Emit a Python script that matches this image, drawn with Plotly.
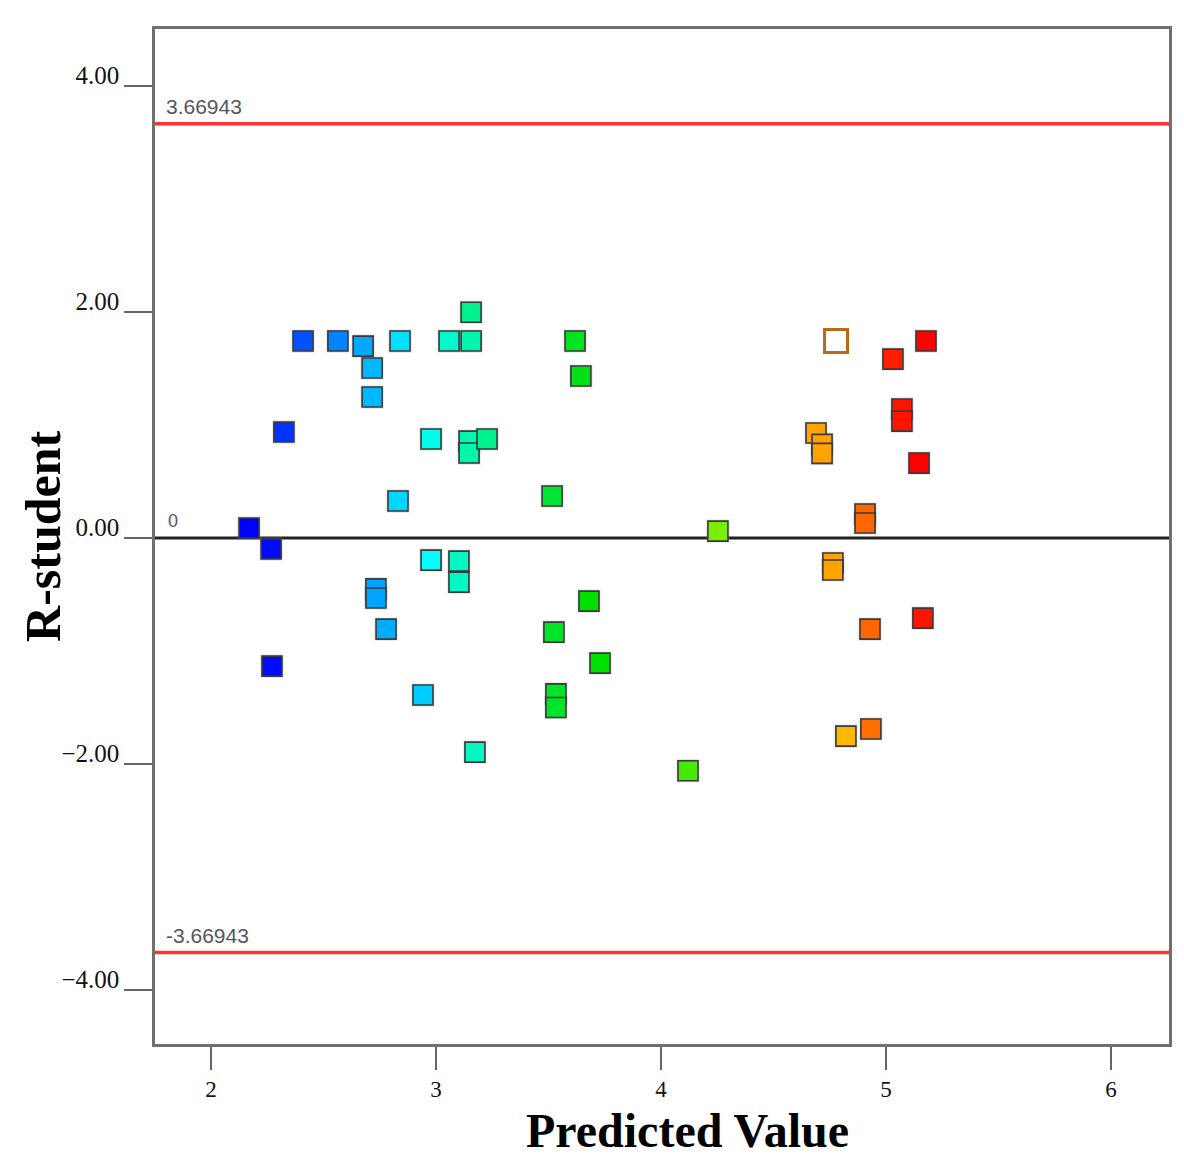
import plotly.graph_objects as go

# Predicted value (x), externally studentized residual (y), colour level (actual response rank 0..1)
predicted = [2.169, 2.267, 2.271, 2.324, 2.409, 2.564, 2.676, 2.716, 2.716, 2.733, 2.733,
             2.778, 2.840, 2.831, 2.942, 2.978, 2.978, 3.058, 3.156, 3.156, 3.147, 3.147,
             3.227, 3.102, 3.102, 3.173, 3.516, 3.618, 3.644, 3.524, 3.680, 3.729, 3.533,
             3.533, 4.120, 4.253, 4.689, 4.716, 4.716, 4.764, 4.764, 4.907, 4.907, 5.031,
             5.178, 5.071, 5.071, 5.147, 5.164, 4.929, 4.933, 4.822]
r_student = [0.089, -0.097, -1.134, 0.939, 1.745, 1.745, 1.700, 1.506, 1.249, -0.450, -0.530,
             -0.806, 1.745, 0.328, -1.390, 0.877, -0.195, 1.745, 1.745, 2.000, 0.859, 0.753,
             0.877, -0.204, -0.390, -1.895, 0.372, 1.745, 1.435, -0.833, -0.558, -1.107, -1.380,
             -1.500, -2.060, 0.062, 0.930, 0.830, 0.750, -0.221, -0.283, 0.213, 0.133, 1.585,
             1.745, 1.143, 1.036, 0.664, -0.709, -0.806, -1.690, -1.754]
color_level = [0.00, 0.01, 0.01, 0.05, 0.08, 0.13, 0.165, 0.18, 0.18, 0.16, 0.16,
               0.17, 0.22, 0.21, 0.20, 0.27, 0.25, 0.30, 0.33, 0.36, 0.33, 0.33,
               0.36, 0.31, 0.31, 0.31, 0.45, 0.47, 0.48, 0.46, 0.50, 0.50, 0.46,
               0.46, 0.57, 0.62, 0.84, 0.84, 0.84, 0.84, 0.84, 0.90, 0.90, 0.97,
               1.00, 0.98, 0.98, 1.00, 0.98, 0.90, 0.89, 0.82]

# Highlighted (open) point
hl_predicted = [4.778]
hl_r_student = [1.745]

limit = 3.66943
x_ticks = [2, 3, 4, 5, 6]
y_ticks = [4, 2, 0, -2, -4]
y_tick_text = ["4.00", "2.00", "0.00", "\u22122.00", "\u22124.00"]

x_range = [1.751, 6.258]
y_range = [-4.48, 4.508]

jet = [[0.0, "#0000ff"], [0.25, "#00ffff"], [0.5, "#00e000"], [0.75, "#ffff00"], [1.0, "#ff0000"]]

fig = go.Figure()

# reference lines
fig.add_trace(go.Scatter(x=x_range, y=[limit, limit], mode="lines",
                         line=dict(color="#ff3333", width=3.5), hoverinfo="skip", showlegend=False))
fig.add_trace(go.Scatter(x=x_range, y=[-limit, -limit], mode="lines",
                         line=dict(color="#ff3333", width=3.5), hoverinfo="skip", showlegend=False))
fig.add_trace(go.Scatter(x=x_range, y=[0, 0], mode="lines",
                         line=dict(color="#222222", width=3), hoverinfo="skip", showlegend=False))

# shadow halo
fig.add_trace(go.Scatter(x=predicted, y=r_student, mode="markers",
                         marker=dict(symbol="square", size=23, color="rgba(150,150,150,0.35)",
                                     line=dict(width=0)),
                         hoverinfo="skip", showlegend=False))
fig.add_trace(go.Scatter(x=predicted, y=r_student, mode="markers",
                         marker=dict(symbol="square", size=20, color=color_level,
                                     colorscale=jet, cmin=0, cmax=1,
                                     line=dict(color="#3a3a3a", width=1.6)),
                         showlegend=False))
fig.add_trace(go.Scatter(x=hl_predicted, y=hl_r_student, mode="markers",
                         marker=dict(symbol="square", size=23, color="#ffffff",
                                     line=dict(color="#b86a18", width=3)),
                         showlegend=False))

font_serif = "Liberation Serif, Times New Roman, serif"
font_sans = "Liberation Sans, Arial, sans-serif"

fig.update_layout(
    width=1184, height=1165,
    margin=dict(l=147, r=23, t=21, b=129),
    paper_bgcolor="white", plot_bgcolor="white",
    showlegend=False,
    xaxis=dict(range=x_range, tickvals=x_ticks, ticks="outside", ticklen=23, tickwidth=2,
               tickcolor="#666666", showgrid=False, zeroline=False,
               showline=True, linecolor="#707070", linewidth=2.5, mirror=True,
               tickfont=dict(family=font_serif, size=23, color="#111111")),
    yaxis=dict(range=y_range, tickvals=y_ticks, ticktext=y_tick_text, ticks="outside",
               ticklen=28, tickwidth=2, tickcolor="#666666", showgrid=False, zeroline=False,
               showline=True, linecolor="#707070", linewidth=2.5, mirror=True,
               ticklabelstandoff=0, ticklabelshift=-11,
               tickfont=dict(family=font_serif, size=25, color="#111111")),
    annotations=[
        dict(text="<b>Predicted Value</b>", xref="paper", yref="paper", x=0.5247, y=-0.0855,
             yanchor="middle", showarrow=False,
             font=dict(family=font_serif, size=48, color="#000000")),
        dict(text="<b>R-student</b>", xref="paper", yref="paper", x=-0.111, y=0.5,
             textangle=-90, showarrow=False, xanchor="center", yanchor="middle",
             font=dict(family=font_serif, size=50, color="#000000")),
        dict(text="3.66943", xref="paper", yref="y", x=0.009, y=limit, xanchor="left",
             yanchor="middle", yshift=17, showarrow=False,
             font=dict(family=font_sans, size=21, color="#555560")),
        dict(text="-3.66943", xref="paper", yref="y", x=0.009, y=-limit, xanchor="left",
             yanchor="middle", yshift=17, showarrow=False,
             font=dict(family=font_sans, size=21, color="#555560")),
        dict(text="0", xref="paper", yref="y", x=0.011, y=0, xanchor="left",
             yanchor="middle", yshift=17, showarrow=False,
             font=dict(family=font_sans, size=18, color="#555560")),
    ],
)

fig.write_html("out.html")
